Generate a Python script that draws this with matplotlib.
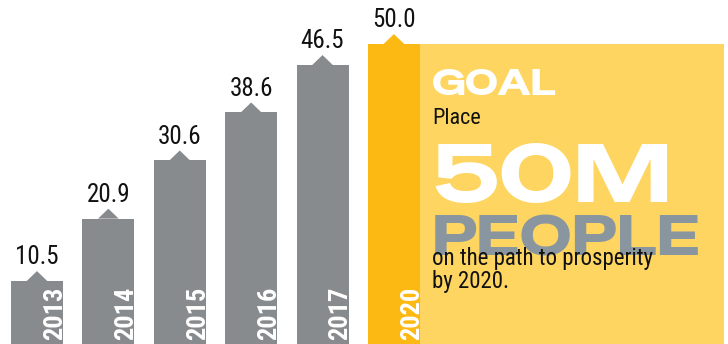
import matplotlib.pyplot as plt
from matplotlib.patches import Polygon

# Millions of people placed on the path to prosperity, by year.
years = ['2013', '2014', '2015', '2016', '2017', '2020']
values = [10.5, 20.9, 30.6, 38.6, 46.5, 50.0]
value_labels = ['10.5', '20.9', '30.6', '38.6', '46.5', '50.0']

goal_title = 'GOAL'
goal_lead = 'Place'
goal_number = '50M'
goal_people = 'PEOPLE'
goal_tail = 'on the path to prosperity\nby 2020.'

GRAY = '#888b8e'
GOLD = '#fdb913'
LIGHT = '#fed560'
SLATE = '#8a969f'

narrow = ['Roboto Condensed', 'Liberation Sans Narrow', 'DejaVu Sans']
wide = ['Special Gothic Expanded One', 'DejaVu Sans']

fig = plt.figure(figsize=(7.28, 3.44), dpi=100)
ax = fig.add_axes([0, 0, 1, 1])
ax.set_xlim(-0.518, 9.68)
ax.set_ylim(0, 57.33)
ax.axis('off')

x = list(range(len(years)))
colors = [GRAY] * 5 + [GOLD]
bar_w = 0.728

# goal panel behind the 2020 bar
ax.bar(5 + bar_w / 2, values[-1], width=9.62 - (5 + bar_w / 2),
       align='edge', color=LIGHT, zorder=1)
ax.bar(x, values, width=bar_w, color=colors, zorder=2)

for i, v in enumerate(values):
    # small pointer on top of each bar
    tri = Polygon([[i - 0.145, v - 0.01], [i, v + 1.65], [i + 0.145, v - 0.01]],
                  closed=True, color=colors[i], lw=0, zorder=2)
    ax.add_patch(tri)
    ax.text(i, v + 2.8, value_labels[i], ha='center', va='baseline',
            fontsize=18, family=narrow, color='#111111', zorder=3)
    ax.text(i + 0.35, 0.6, years[i], rotation=90, rotation_mode='anchor',
            ha='left', va='baseline', fontsize=19, fontweight='bold',
            family=narrow, color='white', zorder=3)

def px(xp, yp):
    return xp / 728, 1 - yp / 344

tx = 432
ax.text(*px(tx, 95), goal_title, transform=ax.transAxes, ha='left',
        va='baseline', fontsize=26, family=wide, color='white', zorder=3)
ax.text(*px(tx, 124), goal_lead, transform=ax.transAxes, ha='left',
        va='baseline', fontsize=16, family=narrow, color='#111111', zorder=3)
ax.text(*px(tx, 202), goal_number, transform=ax.transAxes, ha='left',
        va='baseline', fontsize=59, family=wide, color='white', zorder=3)
ax.text(*px(tx, 256), goal_people, transform=ax.transAxes, ha='left',
        va='baseline', fontsize=41, family=wide, color=SLATE, zorder=3)
ax.text(*px(tx, 288), goal_tail, transform=ax.transAxes, ha='left',
        va='baseline', fontsize=16.5, family=narrow, color='#111111',
        linespacing=1.0, zorder=3)

fig.savefig('out.png', dpi=100)
